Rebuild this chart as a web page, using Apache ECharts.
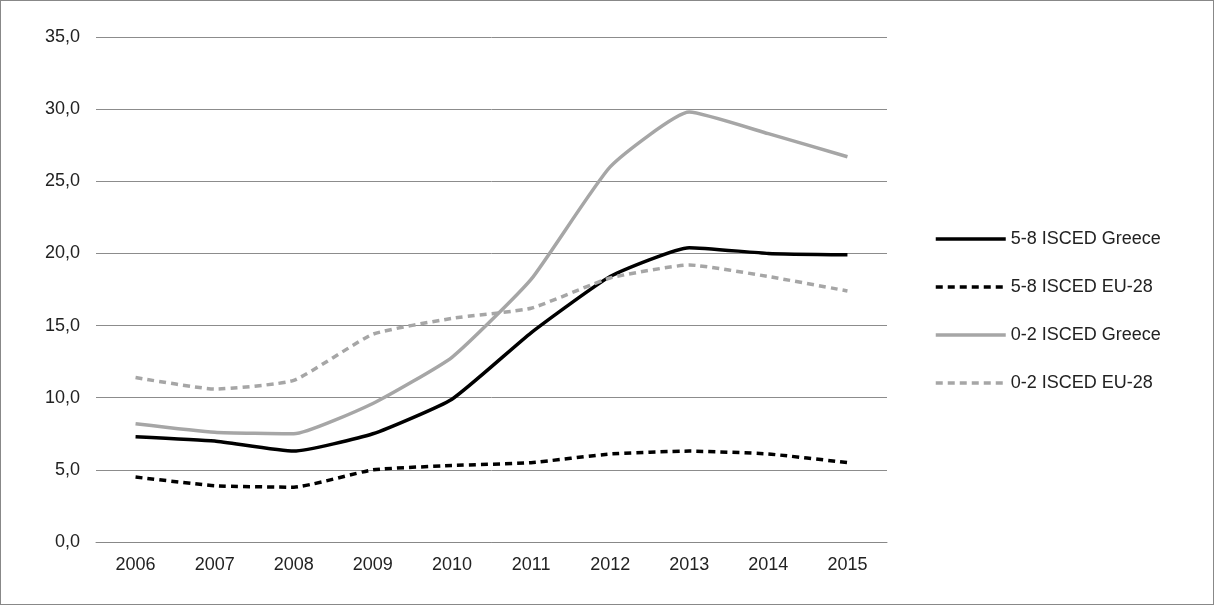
<!DOCTYPE html>
<html><head><meta charset="utf-8">
<script src="https://cdn.jsdelivr.net/npm/echarts@6/dist/echarts.min.js"></script>
<style>html,body{margin:0;padding:0;background:#fff}#c{width:1212px;height:603px;border:1px solid #888}</style>
</head><body><div id="c"></div>
<script>
const years = ['2006','2007','2008','2009','2010','2011','2012','2013','2014','2015'];
const greece58 = [7.3,7.0,6.3,7.5,9.9,14.5,18.4,20.4,20.0,19.9];
const eu58 = [4.5,3.9,3.8,5.0,5.3,5.5,6.1,6.3,6.1,5.5];
const greece02 = [8.2,7.6,7.5,9.6,12.8,18.2,26.0,29.8,28.3,26.7];
const eu02 = [11.4,10.6,11.2,14.4,15.5,16.2,18.3,19.2,18.4,17.4];

const chart = echarts.init(document.getElementById('c'));
const font = 'Liberation Sans, Arial, sans-serif';
function s(name, data, color, dashed) {
  return {name: name, type: 'line', data: data, symbol: 'none', smooth: 0.15,
    lineStyle: {color: color, width: 3.5, type: dashed ? [7, 5] : 'solid'},
    itemStyle: {color: color}};
}
chart.setOption({
  animation: false,
  grid: {left: 95, right: 326, top: 36, bottom: 62},
  legend: {orient: 'vertical', left: 928, top: 224, itemGap: 30, itemWidth: 70, itemHeight: 22,
    itemStyle: {opacity: 0}, lineStyle: {width: 3.5},
    textStyle: {fontFamily: font, fontSize: 18, color: '#222'},
    data: ['5-8 ISCED Greece','5-8 ISCED EU-28','0-2 ISCED Greece','0-2 ISCED EU-28']},
  xAxis: {type: 'category', data: years, boundaryGap: true,
    axisLine: {lineStyle: {color: '#888'}}, axisTick: {show: false},
    axisLabel: {fontFamily: font, fontSize: 18, color: '#222', margin: 14}},
  yAxis: {type: 'value', min: 0, max: 35, interval: 5,
    axisLine: {show: false}, axisTick: {show: false},
    splitLine: {lineStyle: {color: '#8c8c8c'}},
    axisLabel: {fontFamily: font, fontSize: 18, color: '#222', margin: 16,
      formatter: v => v.toFixed(1).replace('.', ',')}},
  series: [
    s('5-8 ISCED Greece', greece58, '#000', false),
    s('5-8 ISCED EU-28', eu58, '#000', true),
    s('0-2 ISCED Greece', greece02, '#a6a6a6', false),
    s('0-2 ISCED EU-28', eu02, '#a6a6a6', true)
  ]
});
</script></body></html>
